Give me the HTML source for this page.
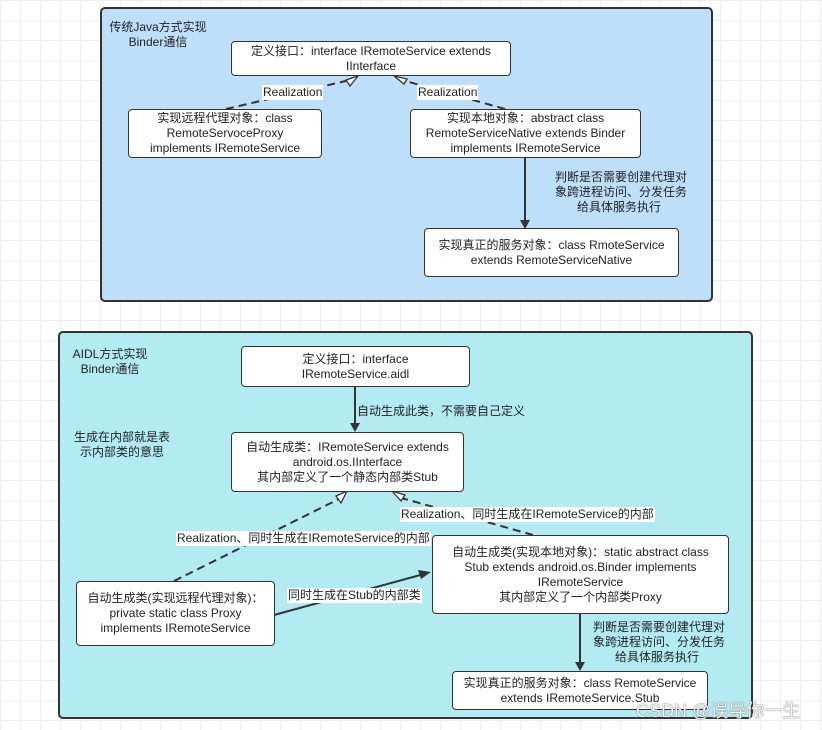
<!DOCTYPE html>
<html><head><meta charset="utf-8"><style>
body{margin:0;width:822px;height:730px;position:relative;overflow:hidden;font-family:"Liberation Sans","Noto Sans CJK SC",sans-serif;font-size:12px;color:#222;
background-color:#fff;background-image:linear-gradient(#eee 1px,transparent 1px),linear-gradient(90deg,#eee 1px,transparent 1px);background-size:20px 20px}
.p{position:absolute;border:2px solid #333;border-radius:5px;box-sizing:border-box}
.b{position:absolute;background:#fff;border:1.5px solid #333;border-radius:4px;box-sizing:border-box;display:flex;align-items:center;justify-content:center;text-align:center;line-height:15px}
.t{position:absolute;line-height:15px;text-align:center;white-space:nowrap}
.l{position:absolute;background:#fff;line-height:15px;white-space:nowrap;padding:0 1px}
svg{position:absolute;left:0;top:0}
</style></head><body>
<div class="p" style="left:100px;top:7px;width:613px;height:295px;background:#bddffa"></div>
<div class="p" style="left:58px;top:331px;width:695px;height:388px;background:#b2ebf2"></div>
<svg width="822" height="730">
<g stroke="#333" stroke-width="2" fill="none">
<path d="M226 109 L350 80" stroke-dasharray="8,5"/>
<path d="M505 109 L402 80" stroke-dasharray="8,5"/>
<path d="M525 157 L525 222"/>
<path d="M355 401 L355 425"/>
<path d="M174 581 L341 498" stroke-dasharray="8,5"/>
<path d="M533 535 L398 497" stroke-dasharray="8,5"/>
<path d="M274 615 L424 574"/>
<path d="M580 613 L580 664"/>
</g>
<g fill="#333">
<path d="M520 220 L530 220 L525 229Z"/>
<path d="M350 423 L360 423 L355 432Z"/>
<path d="M575 662 L585 662 L580 671Z"/>
<path d="M418 570 L431 572 L421 579Z"/>
</g>
<g fill="#fff" stroke="#333" stroke-width="1.3">
<path d="M358 76 L346 80 L350 86Z"/>
<path d="M394 76 L404 84 L407 79Z"/>
<path d="M347 491 L336 496 L341 503Z"/>
<path d="M392 491 L401 501 L405 495Z"/>
</g>
<path d="M355 386 L355 401" stroke="#333" stroke-width="2"/>
</svg>
<div class="t" style="left:108px;top:20px;width:100px">传统Java方式实现<br>Binder通信</div>
<div class="b" style="left:231px;top:41px;width:280px;height:35px">定义接口：interface IRemoteService extends<br>IInterface</div>
<div class="l" style="left:262px;top:85px">Realization</div>
<div class="l" style="left:417px;top:85px">Realization</div>
<div class="b" style="left:128px;top:109px;width:194px;height:49px">实现远程代理对象：class<br>RemoteServoceProxy<br>implements IRemoteService</div>
<div class="b" style="left:410px;top:109px;width:231px;height:49px">实现本地对象：abstract class<br>RemoteServiceNative extends Binder<br>implements IRemoteService</div>
<div class="t" style="left:555px;top:170px;width:128px">判断是否需要创建代理对<br>象跨进程访问、分发任务<br>给具体服务执行</div>
<div class="b" style="left:424px;top:228px;width:255px;height:49px">实现真正的服务对象：class RmoteService<br>extends RemoteServiceNative</div>

<div class="t" style="left:62px;top:347px;width:96px">AIDL方式实现<br>Binder通信</div>
<div class="t" style="left:70px;top:430px;width:104px">生成在内部就是表<br>示内部类的意思</div>
<div class="b" style="left:241px;top:346px;width:229px;height:41px">定义接口：interface<br>IRemoteService.aidl</div>
<div class="t" style="left:357px;top:404px">自动生成此类，不需要自己定义</div>
<div class="b" style="left:231px;top:432px;width:233px;height:60px">自动生成类：IRemoteService extends<br>android.os.IInterface<br>其内部定义了一个静态内部类Stub</div>
<div class="l" style="left:400px;top:507px">Realization、同时生成在IRemoteService的内部</div>
<div class="l" style="left:176px;top:531px">Realization、同时生成在IRemoteService的内部</div>
<div class="b" style="left:432px;top:535px;width:297px;height:79px">自动生成类(实现本地对象)：static abstract class<br>Stub extends android.os.Binder implements<br>IRemoteService<br>其内部定义了一个内部类Proxy</div>
<div class="b" style="left:76px;top:581px;width:199px;height:65px">自动生成类(实现远程代理对象)：<br>private static class Proxy<br>implements IRemoteService</div>
<div class="l" style="left:287px;top:588px">同时生成在Stub的内部类</div>
<div class="t" style="left:593px;top:620px;width:128px">判断是否需要创建代理对<br>象跨进程访问、分发任务<br>给具体服务执行</div>
<div class="b" style="left:452px;top:671px;width:256px;height:39px">实现真正的服务对象：class RemoteService<br>extends IRemoteService.Stub</div>
<div class="t" style="left:636px;top:700px;font-size:18px;color:#f4f4f4;line-height:22px;text-shadow:0 0 1px #666,0 0 1px #666">CSDN @误导你一生</div>
</body></html>
